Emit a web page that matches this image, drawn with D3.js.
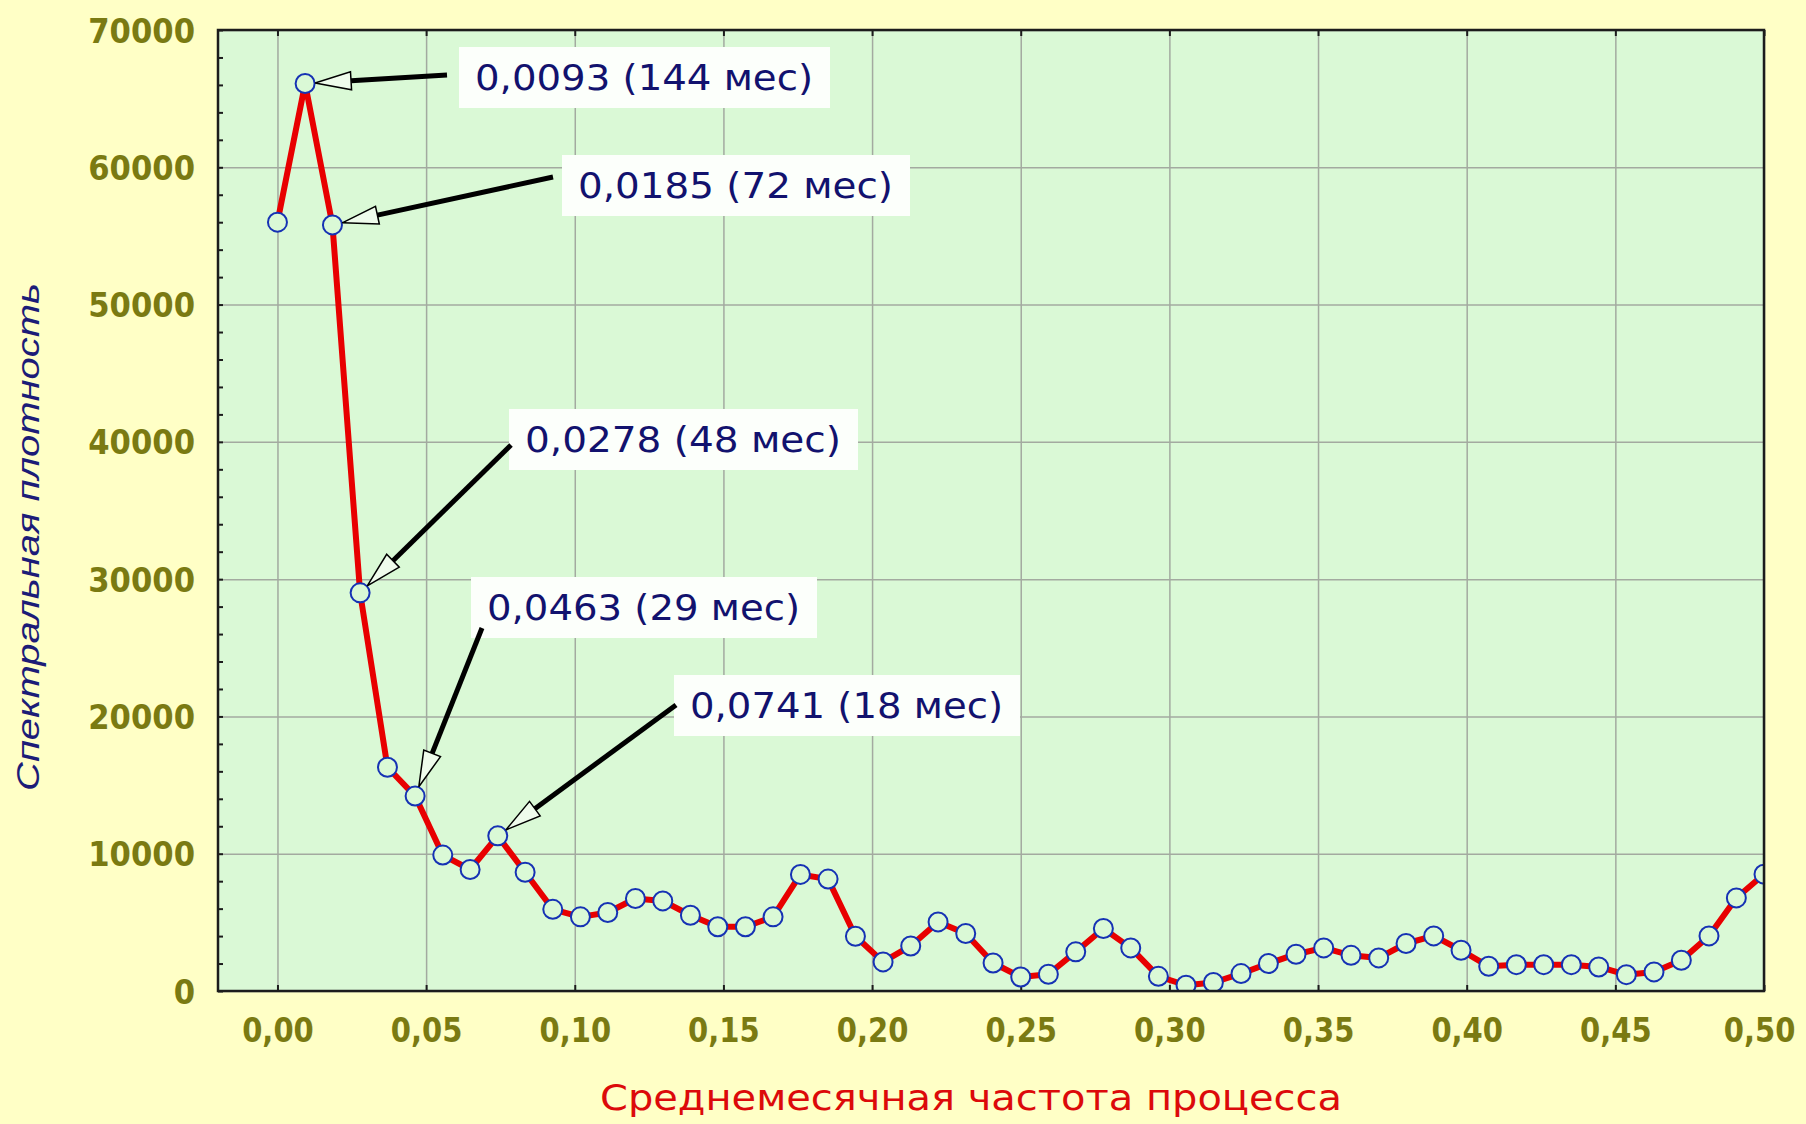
<!DOCTYPE html>
<html>
<head>
<meta charset="utf-8">
<script src="https://cdn.jsdelivr.net/npm/d3@7"></script>
<style>
  html, body { margin: 0; padding: 0; background: #ffffc6; }
  svg { display: block; }
</style>
</head>
<body>
<svg id="chart" width="1806" height="1124"></svg>
<script>
// Frequencies (cycles per month) of the periodogram ordinates
const frequency = [
  0.0000, 0.0093, 0.0185, 0.0278, 0.0370, 0.0463, 0.0556, 0.0648, 0.0741, 0.0833,
  0.0926, 0.1019, 0.1111, 0.1204, 0.1296, 0.1389, 0.1481, 0.1574, 0.1667, 0.1759,
  0.1852, 0.1944, 0.2037, 0.2130, 0.2222, 0.2315, 0.2407, 0.2500, 0.2593, 0.2685,
  0.2778, 0.2870, 0.2963, 0.3056, 0.3148, 0.3241, 0.3333, 0.3426, 0.3519, 0.3611,
  0.3704, 0.3796, 0.3889, 0.3981, 0.4074, 0.4167, 0.4259, 0.4352, 0.4444, 0.4537,
  0.4630, 0.4722, 0.4815, 0.4907, 0.5000
];

// Spectral density estimates
const spectralDensity = [
  56000, 66100, 55800, 29000, 16300, 14200, 9900, 8850, 11300, 8650,
  5950, 5400, 5720, 6740, 6560, 5520, 4680, 4680, 5400, 8490,
  8150, 3990, 2120, 3280, 5030, 4190, 2040, 1020, 1220, 2850,
  4550, 3140, 1070, 420, 620, 1270, 2000, 2680, 3140, 2600,
  2410, 3460, 4010, 2970, 1800, 1920, 1920, 1920, 1750, 1190,
  1390, 2240, 4010, 6780, 8510
];

const xTickValues = [0, 0.05, 0.10, 0.15, 0.20, 0.25, 0.30, 0.35, 0.40, 0.45, 0.50];
const xTickLabels = ["0,00", "0,05", "0,10", "0,15", "0,20", "0,25", "0,30", "0,35", "0,40", "0,45", "0,50"];
const yTickValues = [0, 10000, 20000, 30000, 40000, 50000, 60000, 70000];
const yTickLabels = ["0", "10000", "20000", "30000", "40000", "50000", "60000", "70000"];

// Highlighted peaks: index into the series and the caption shown
const peakIndices = [1, 2, 3, 5, 8];
const peakLabels = [
  "0,0093 (144 мес)",
  "0,0185 (72 мес)",
  "0,0278 (48 мес)",
  "0,0463 (29 мес)",
  "0,0741 (18 мес)"
];

const xAxisTitle = "Среднемесячная частота процесса";
const yAxisTitle = "Спектральная плотность";

// Caption placement: text start / baseline, caption width, arrow tail
const calloutLayout = [
  { tx: 475, ty: 90,  w: 338, ax: 447, ay: 75 },
  { tx: 578, ty: 198, w: 315, ax: 553, ay: 177 },
  { tx: 525, ty: 452, w: 316, ax: 511, ay: 445 },
  { tx: 487, ty: 620, w: 313, ax: 482, ay: 628 },
  { tx: 690, ty: 718, w: 313, ax: 676, ay: 705 }
];

const W = 1806, H = 1124;
const plot = { left: 218, right: 1764, top: 30, bottom: 991 };

const colors = {
  page: "#ffffc6",
  plot: "#daf9d6",
  grid: "#a3aaa0",
  frame: "#1c1c1c",
  tick: "#7a7a12",
  line: "#e80000",
  marker: "#1632b4",
  note: "#12126e",
  xTitle: "#dc0a0a",
  yTitle: "#1c1c78"
};

const svg = d3.select("#chart");

const x = d3.scaleLinear().domain([-0.02, 0.5]).range([plot.left, plot.right]);
const y = d3.scaleLinear().domain([0, 70000]).range([plot.bottom, plot.top]);

// Backgrounds
svg.append("rect").attr("width", W).attr("height", H).attr("fill", colors.page);
svg.append("rect")
  .attr("x", plot.left).attr("y", plot.top)
  .attr("width", plot.right - plot.left).attr("height", plot.bottom - plot.top)
  .attr("fill", colors.plot);

svg.append("defs").append("clipPath").attr("id", "plot-clip")
  .append("rect")
  .attr("x", plot.left).attr("y", plot.top)
  .attr("width", plot.right - plot.left).attr("height", plot.bottom - plot.top);

// Grid lines
const gridX = svg.append("g")
  .attr("transform", `translate(0,${plot.bottom})`)
  .call(d3.axisBottom(x).tickValues(xTickValues).tickSize(-(plot.bottom - plot.top)).tickFormat(""));
const gridY = svg.append("g")
  .attr("transform", `translate(${plot.left},0)`)
  .call(d3.axisLeft(y).tickValues(yTickValues).tickSize(-(plot.right - plot.left)).tickFormat(""));
[gridX, gridY].forEach(g => {
  g.select(".domain").remove();
  g.selectAll(".tick line").attr("stroke", colors.grid).attr("stroke-width", 1.5);
});

// Minor ticks on the left edge, major ticks on top/bottom edges (pointing inward)
const minorY = svg.append("g")
  .attr("transform", `translate(${plot.left},0)`)
  .call(d3.axisLeft(y).tickValues(d3.range(0, 70001, 2000)).tickSize(-5).tickFormat(""));
minorY.select(".domain").remove();
minorY.selectAll(".tick line").attr("stroke", colors.frame).attr("stroke-width", 2);

const topTicks = svg.append("g")
  .attr("transform", `translate(0,${plot.top})`)
  .call(d3.axisTop(x).tickValues(xTickValues).tickSize(-6).tickFormat(""));
const bottomTicks = svg.append("g")
  .attr("transform", `translate(0,${plot.bottom})`)
  .call(d3.axisBottom(x).tickValues(xTickValues).tickSize(-6).tickFormat(""));
[topTicks, bottomTicks].forEach(g => {
  g.select(".domain").remove();
  g.selectAll(".tick line").attr("stroke", colors.frame).attr("stroke-width", 2);
});

// Series
const series = frequency.map((f, i) => ({ f, v: spectralDensity[i] }));
const body = svg.append("g").attr("clip-path", "url(#plot-clip)");

body.append("path")
  .datum(series)
  .attr("fill", "none")
  .attr("stroke", colors.line)
  .attr("stroke-width", 6)
  .attr("stroke-linejoin", "round")
  .attr("d", d3.line().x(d => x(d.f)).y(d => y(d.v)));

body.selectAll("circle")
  .data(series)
  .join("circle")
  .attr("cx", d => x(d.f))
  .attr("cy", d => y(d.v))
  .attr("r", 9.5)
  .attr("fill", colors.plot)
  .attr("stroke", colors.marker)
  .attr("stroke-width", 2);

// Frame
svg.append("rect")
  .attr("x", plot.left).attr("y", plot.top)
  .attr("width", plot.right - plot.left).attr("height", plot.bottom - plot.top)
  .attr("fill", "none")
  .attr("stroke", colors.frame)
  .attr("stroke-width", 2.5);

// Tick labels: slightly condensed bold face
function styleTickText(sel, squeeze) {
  sel.attr("fill", colors.tick)
    .attr("font-family", "'DejaVu Sans', sans-serif")
    .attr("font-weight", "bold")
    .attr("font-size", 33)
    .attr("lengthAdjust", "spacingAndGlyphs")
    .attr("textLength", function () { return this.getComputedTextLength() * squeeze; });
}

const xLab = svg.append("g")
  .attr("transform", `translate(0,${plot.bottom})`)
  .call(d3.axisBottom(x).tickValues(xTickValues).tickSize(0).tickFormat((d, i) => xTickLabels[i]));
xLab.select(".domain").remove();
xLab.selectAll(".tick text").attr("y", 51).attr("dy", null).call(styleTickText, 0.88);
// the last label sits against the page edge: align its right side instead
xLab.selectAll(".tick text")
  .filter((d, i, n) => i === n.length - 1)
  .attr("text-anchor", "end")
  .attr("x", 31);

const yLab = svg.append("g")
  .attr("transform", `translate(${plot.left},0)`)
  .call(d3.axisLeft(y).tickValues(yTickValues).tickSize(0).tickFormat((d, i) => yTickLabels[i]));
yLab.select(".domain").remove();
yLab.selectAll(".tick text").attr("x", -23).attr("dy", 12).call(styleTickText, 0.93);

// Axis titles
svg.append("text")
  .attr("x", 971).attr("y", 1110)
  .attr("text-anchor", "middle")
  .attr("fill", colors.xTitle)
  .attr("font-family", "'DejaVu Sans', sans-serif")
  .attr("font-size", 35)
  .attr("textLength", 742)
  .attr("lengthAdjust", "spacingAndGlyphs")
  .text(xAxisTitle);

svg.append("text")
  .attr("transform", "translate(39,537) rotate(-90)")
  .attr("text-anchor", "middle")
  .attr("fill", colors.yTitle)
  .attr("font-family", "'Liberation Sans', Arial, sans-serif")
  .attr("font-style", "italic")
  .attr("font-size", 31)
  .attr("textLength", 508)
  .attr("lengthAdjust", "spacingAndGlyphs")
  .text(yAxisTitle);

// Peak callouts: white caption, thick leader, hollow arrowhead at the point
const notes = svg.append("g");
peakIndices.forEach((idx, i) => {
  const L = calloutLayout[i];
  const px = x(frequency[idx]), py = y(spectralDensity[idx]);

  notes.append("rect")
    .attr("x", L.tx - 16).attr("y", L.ty - 43)
    .attr("width", L.w + 33).attr("height", 61)
    .attr("fill", "#fcfffb");

  notes.append("text")
    .attr("x", L.tx).attr("y", L.ty)
    .attr("fill", colors.note)
    .attr("font-family", "'DejaVu Sans', sans-serif")
    .attr("font-size", 36)
    .attr("textLength", L.w)
    .attr("lengthAdjust", "spacingAndGlyphs")
    .text(peakLabels[i]);

  // leader geometry
  const dx = px - L.ax, dy = py - L.ay;
  const len = Math.hypot(dx, dy);
  const ux = dx / len, uy = dy / len;
  const tipX = px - ux * 10, tipY = py - uy * 10;
  const headLen = 36, headHalf = 9;
  const baseX = tipX - ux * headLen, baseY = tipY - uy * headLen;

  notes.append("line")
    .attr("x1", L.ax).attr("y1", L.ay)
    .attr("x2", baseX).attr("y2", baseY)
    .attr("stroke", "#000")
    .attr("stroke-width", 5);

  notes.append("path")
    .attr("d", `M${tipX},${tipY}L${baseX - uy * headHalf},${baseY + ux * headHalf}L${baseX + uy * headHalf},${baseY - ux * headHalf}Z`)
    .attr("fill", "#effcec")
    .attr("stroke", "#000")
    .attr("stroke-width", 1.5);
});
</script>
</body>
</html>
